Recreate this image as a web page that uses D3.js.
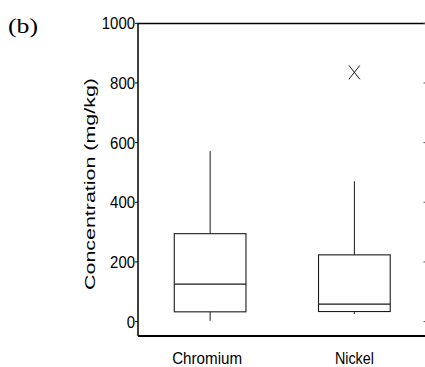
<!DOCTYPE html>
<html>
<head>
<meta charset="utf-8">
<script src="https://cdn.jsdelivr.net/npm/d3@7"></script>
<style>
  html, body { margin: 0; padding: 0; background: #fff; }
  svg { display: block; }
  text { fill: #000; }
</style>
</head>
<body>
<svg id="chart" width="425" height="367"></svg>
<script>
// ---- data ----
const categories = ["Chromium", "Nickel"];
const whiskerLow = [1, 24];
const q1 = [31, 32];
const medians = [124, 57];
const q3 = [293, 222];
const whiskerHigh = [570, 469];
const outliers = [[], [834]];
const yTicks = [0, 200, 400, 600, 800, 1000];
const yTitle = "Concentration (mg/kg)";
const panelLabel = "(b)";

// ---- layout ----
const sans = "'Liberation Sans', Arial, sans-serif";
const serif = "'Liberation Serif', 'Times New Roman', serif";
const svg = d3.select("#chart");
const plotLeft = 138, plotRight = 426.5, plotTop = 23.5, plotBottom = 336;

const y = d3.scaleLinear().domain([-50, 1000]).range([plotBottom, 22.8]);
const x = d3.scalePoint().domain(categories).range([plotLeft, plotRight]).padding(0.5);
const boxW = 71.7;
const stroke = "#1a1a1a";

// frame lines
svg.append("line").attr("x1", plotLeft).attr("x2", plotRight + 2).attr("y1", plotTop).attr("y2", plotTop)
  .attr("stroke", "#000").attr("stroke-width", 1.5);
svg.append("line").attr("x1", plotLeft).attr("x2", plotRight + 2).attr("y1", plotBottom).attr("y2", plotBottom)
  .attr("stroke", "#000").attr("stroke-width", 1.8);

// left axis
const yAxis = d3.axisLeft(y).tickValues(yTicks).tickSize(3).tickSizeOuter(0).tickFormat(d3.format("d"));
const gy = svg.append("g").attr("transform", `translate(${plotLeft},0)`).call(yAxis);
gy.select(".domain").attr("d", `M0,${plotTop}V${plotBottom}`).attr("stroke", "#000").attr("stroke-width", 1.5);
gy.selectAll(".tick line").attr("stroke", "#000");
gy.selectAll(".tick text").remove();
gy.selectAll(".tick").append("text")
  .attr("x", -3).attr("y", 6)
  .attr("text-anchor", "end")
  .attr("textLength", d => String(d).length * 8.3)
  .attr("lengthAdjust", "spacingAndGlyphs")
  .style("font-family", sans)
  .style("font-size", "16.5px")
  .style("fill", "#000")
  .text(d => d);

// right axis ticks (inward)
const gr = svg.append("g").attr("transform", `translate(${plotRight},0)`)
  .call(d3.axisRight(y).tickValues(yTicks).tickSize(-3).tickSizeOuter(0).tickFormat(""));
gr.select(".domain").attr("d", `M0,${plotTop}V${plotBottom}`).attr("stroke", "#000").attr("stroke-width", 1.5);
gr.selectAll(".tick line").attr("stroke", "#555");

// boxes
const g = svg.append("g");
categories.forEach((c, i) => {
  const cx = x(c);
  g.append("line").attr("x1", cx).attr("x2", cx).attr("y1", y(q3[i])).attr("y2", y(whiskerHigh[i]))
    .attr("stroke", stroke).attr("stroke-width", 1);
  g.append("line").attr("x1", cx).attr("x2", cx).attr("y1", y(q1[i])).attr("y2", y(whiskerLow[i]))
    .attr("stroke", stroke).attr("stroke-width", 1);
  g.append("rect").attr("x", cx - boxW / 2).attr("width", boxW)
    .attr("y", y(q3[i])).attr("height", y(q1[i]) - y(q3[i]))
    .attr("fill", "none").attr("stroke", stroke).attr("stroke-width", 1.1);
  g.append("line").attr("x1", cx - boxW / 2).attr("x2", cx + boxW / 2)
    .attr("y1", y(medians[i])).attr("y2", y(medians[i]))
    .attr("stroke", stroke).attr("stroke-width", 1.1);
  outliers[i].forEach(v => {
    const oy = y(v), hw = 5.5, hh = 7;
    g.append("path")
      .attr("d", `M${cx - hw},${oy - hh}L${cx + hw},${oy + hh}M${cx - hw},${oy + hh}L${cx + hw},${oy - hh}`)
      .attr("stroke", stroke).attr("stroke-width", 1).attr("fill", "none");
  });
});

// category labels
const labelLen = { "Chromium": 70, "Nickel": 39 };
svg.append("g").selectAll("text").data(categories).join("text")
  .attr("x", d => x(d) - (d === "Chromium" ? 3 : 0)).attr("y", 364)
  .attr("text-anchor", "middle")
  .attr("textLength", d => labelLen[d])
  .attr("lengthAdjust", "spacingAndGlyphs")
  .style("font-family", sans)
  .style("font-size", "16.5px")
  .text(d => d);

// y title
svg.append("text")
  .attr("transform", "translate(95,184) rotate(-90)")
  .attr("text-anchor", "middle")
  .attr("textLength", 212)
  .attr("lengthAdjust", "spacingAndGlyphs")
  .style("font-family", sans)
  .style("font-size", "15px")
  .text(yTitle);

// panel label
svg.append("text")
  .attr("x", 8).attr("y", 33)
  .attr("textLength", 30)
  .attr("lengthAdjust", "spacingAndGlyphs")
  .style("font-family", serif)
  .style("font-size", "21px")
  .text(panelLabel);
</script>
</body>
</html>
